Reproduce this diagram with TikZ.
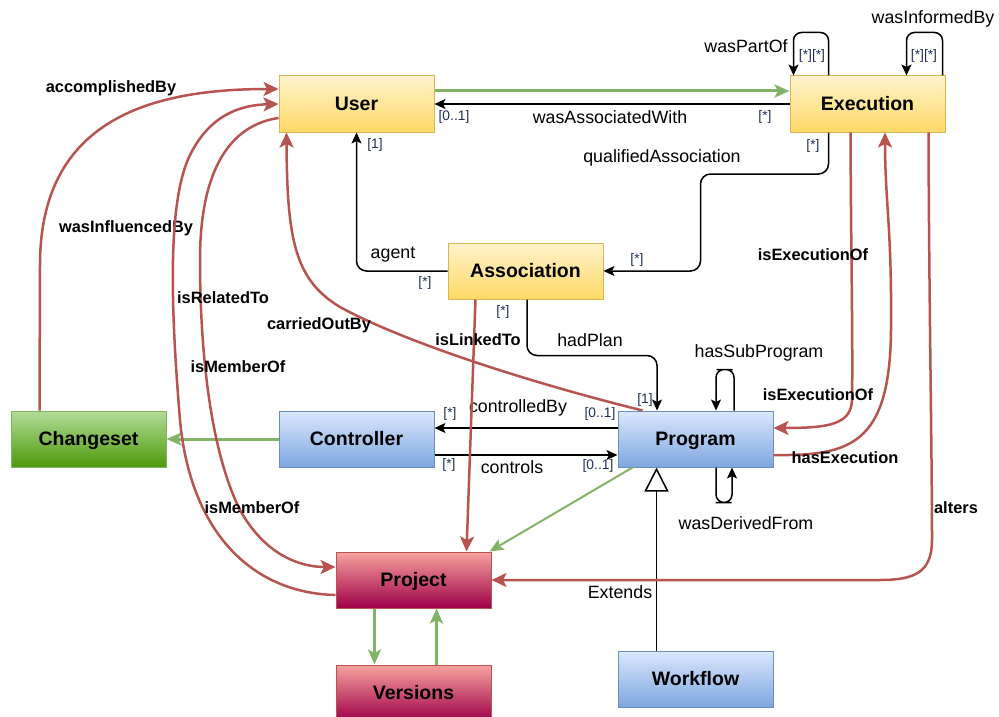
\documentclass[tikz,border=0pt]{standalone}
\usepackage{fontspec}
\setmainfont{Liberation Sans}
\usetikzlibrary{arrows.meta,calc}
\definecolor{ytop}{HTML}{FFF2CC}
\definecolor{ybot}{HTML}{FFD966}
\definecolor{ybord}{HTML}{D6B656}
\definecolor{btop}{HTML}{DAE8FC}
\definecolor{bbot}{HTML}{7EA6E0}
\definecolor{bbord}{HTML}{6C8EBF}
\definecolor{gtop}{HTML}{B3DC97}
\definecolor{gbot}{HTML}{4E9A0C}
\definecolor{gbord}{HTML}{82B366}
\definecolor{rtop}{HTML}{F7A29E}
\definecolor{rbot}{HTML}{9E0048}
\definecolor{rbord}{HTML}{B85450}
\definecolor{redc}{HTML}{B85450}
\definecolor{grnc}{HTML}{82B366}
\definecolor{multc}{HTML}{1F2F55}
\begin{document}
\begin{tikzpicture}[x=1pt,y=-1pt,
  box/.style={draw, minimum width=155pt, minimum height=56pt, inner sep=0pt, line width=1pt,
    text height=12.5pt, text depth=0pt,
    font=\fontsize{19.5}{22}\selectfont\bfseries},
  ybox/.style={box, draw=ybord, top color=ytop, bottom color=ybot},
  bbox/.style={box, draw=bbord, top color=btop, bottom color=bbot},
  gbox/.style={box, draw=gbord, top color=gtop, bottom color=gbot},
  rbox/.style={box, draw=rbord, top color=rtop, bottom color=rbot},
  blk/.style={draw=black, line width=1.5pt, -{Stealth[length=11pt,width=10pt,inset=2.5pt]}},
  blkloop/.style={blk, rounded corners=8pt},
  rdl/.style={draw=redc, line width=2.5pt, -{Stealth[length=15pt,width=14pt,inset=3.5pt]}},
  grn/.style={draw=grnc, line width=3pt, -{Stealth[length=15pt,width=13pt,inset=3.5pt]}},
  grnthin/.style={draw=grnc, line width=2pt, -{Stealth[length=14pt,width=12pt,inset=3pt]}},
  ext/.style={draw=black, line width=1.5pt, -{Triangle[open, length=24pt, width=24pt, fill=white]}},
  lblb/.style={inner sep=0pt, font=\fontsize{16.4}{18}\selectfont\bfseries},
  lblr/.style={inner sep=0pt, font=\fontsize{17.8}{20}\selectfont},
  mult/.style={inner sep=0pt, text=multc, font=\fontsize{13.8}{15}\selectfont}
]
\useasboundingbox (0,0) rectangle (999,717);

% nodes
\node[ybox] (User) at (356.5,104) {User};
\node[ybox] (Execution) at (867.5,104) {Execution};
\node[ybox] (Association) at (525.5,271) {Association};
\node[gbox] (Changeset) at (88.5,439) {Changeset};
\node[bbox] (Controller) at (356.5,439) {Controller};
\node[bbox] (Program) at (695.5,439) {Program};
\node[rbox] (Project) at (413.5,580) {Project};
\node[rbox] (Versions) at (413.5,693) {Versions};
\node[bbox] (Workflow) at (695.5,679) {Workflow};

% User <-> Execution
\draw[grn] ($(User.east)+(0,-13)$) -- ($(Execution.west)+(0,-13)$);
\draw[blk] (Execution.west) -- (User.east);
\node[lblr] at (610,117) {wasAssociatedWith};
\node[mult] at (454,117) {[0..1]};
\node[mult] at (765,117) {[*]};

% Execution loops
\draw[blkloop] ($(Execution.north west)+(39,0)$) |- ($(Execution.north west)+(20,-43)$) -| ($(Execution.north west)+(4,0)$);
\node[lblr] at (746,46) {wasPartOf};
\node[mult] at (812,56) {[*][*]};
\draw[blkloop] ($(Execution.north east)+(-3,0)$) |- ($(Execution.north east)+(-21,-43)$) -| ($(Execution.north east)+(-39,0)$);
\node[lblr] at (933,19) {wasInformedBy};
\node[mult] at (924,56) {[*][*]};

% qualifiedAssociation
\draw[blk, rounded corners=10pt] ($(Execution.south west)+(39,0)$) |- ($(Association.east)+(97,-97)$) |- (Association.east);
\node[lblr] at (662,158) {qualifiedAssociation};
\node[mult] at (813,146) {[*]};
\node[mult] at (637,260) {[*]};

% agent
\draw[blk, rounded corners=10pt] (Association.west) -| (User.south);
\node[lblr] at (393,255) {agent};
\node[mult] at (425,283) {[*]};
\node[mult] at (375,145) {[1]};

% hadPlan
\draw[blk, rounded corners=10pt] ($(Association.south)+(1.5,0)$) |- ($(Program.north)+(-38.5,-55)$) -- ($(Program.north)+(-38.5,0)$);
\node[lblr] at (590,340) {hadPlan};
\node[mult] at (503,312) {[*]};
\node[mult] at (645,400) {[1]};

% controlledBy / controls
\draw[blk] ($(Program.west)+(0,-11)$) -- ($(Controller.east)+(0,-11)$);
\node[lblr] at (518,408) {controlledBy};
\node[mult] at (450,414) {[*]};
\node[mult] at (600,414) {[0..1]};
\draw[blk] ($(Controller.east)+(0,16)$) -- ($(Program.west)+(0,16)$);
\node[lblr] at (512,467) {controls};
\node[mult] at (449,465) {[*]};
\node[mult] at (598,466) {[0..1]};

% Controller -> Changeset
\draw[grn] (Controller.west) -- (Changeset.east);

% Program loops
\draw[blkloop] ($(Program.north)+(38.5,0)$) |- ($(Program.north)+(29,-41)$) -| ($(Program.north)+(20.5,0)$);
\node[lblr] at (759,353) {hasSubProgram};
\draw[blkloop] ($(Program.south)+(20.5,0)$) |- ($(Program.south)+(28,35)$) -| ($(Program.south)+(36.5,0)$);
\node[lblr] at (746,523) {wasDerivedFrom};

% Extends
\draw[ext] ($(Workflow.north)+(-39,0)$) -- ($(Program.south)+(-39,0)$);
\node[lblr] at (620,592) {Extends};

% Program -> Project
\draw[grnthin] ($(Program.south west)+(15,0)$) -- ($(Project.north east)+(-2,0)$);

% isLinkedTo
\draw[rdl] ($(Association.south west)+(28,0)$) -- ($(Project.north)+(53,0)$);
\node[lblb] at (478,340) {isLinkedTo};

% carriedOutBy
\draw[rdl] ($(Program.north west)+(25,0)$) .. controls (520,380) and (400,340) .. (340,307)
  .. controls (295,280) and (287,240) .. ($(User.south west)+(8,0)$);
\node[lblb] at (319,325) {carriedOutBy};

% hasExecution
\draw[rdl] ($(Program.east)+(0,16)$) .. controls (850,456) and (890,445) .. (891,330)
  .. controls (892,230) and (885,200) .. ($(Execution.south)+(17.5,0)$);
\node[lblb] at (845,458) {hasExecution};

% isExecutionOf
\draw[rdl] ($(Execution.south)+(-17,0)$) .. controls (851,250) and (853,350) .. (852,400)
  .. controls (851,424) and (830,428) .. ($(Program.east)+(0,-11)$);
\node[lblb] at (813,255) {isExecutionOf};
\node[lblb] at (818,395) {isExecutionOf};

% alters
\draw[rdl] ($(Execution.south east)+(-17,0)$) .. controls (929,300) and (932,450) .. (932,540)
  .. controls (932,572) and (915,580) .. (880,580) -- (Project.east);
\node[lblb] at (956,508) {alters};

% accomplishedBy
\draw[rdl] ($(Changeset.north west)+(29,0)$) -- (40,265) .. controls (40,120) and (150,89) .. ($(User.west)+(0,-15)$);
\node[lblb] at (111,88) {accomplishedBy};
\node[lblb] at (126,228) {wasInfluencedBy};

% Project -> User
\draw[rdl] ($(Project.west)+(0,15)$) .. controls (250,593) and (190,530) .. (180,420)
  .. controls (170,300) and (168,200) .. (190,155)
  .. controls (210,115) and (240,105) .. (User.west);
% User -> Project
\draw[rdl] ($(User.west)+(0,14)$) .. controls (230,125) and (200,170) .. (200,260)
  .. controls (200,350) and (210,450) .. (240,510)
  .. controls (265,555) and (300,567) .. ($(Project.west)+(0,-13)$);
\node[lblb] at (223,298) {isRelatedTo};
\node[lblb] at (238,367) {isMemberOf};
\node[lblb] at (252,508) {isMemberOf};

% Project <-> Versions
\draw[grn] ($(Project.south west)+(39,0)$) -- ($(Versions.north west)+(39,0)$);
\draw[grn] ($(Versions.north west)+(101,0)$) -- ($(Project.south west)+(101,0)$);
\end{tikzpicture}
\end{document}
